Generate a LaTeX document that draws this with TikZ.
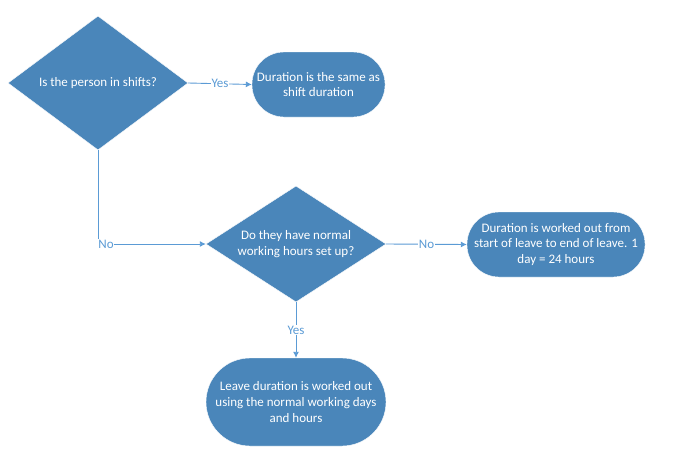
\documentclass[tikz,border=0pt]{standalone}
\usepackage{fontspec}
\setmainfont{Carlito}
\usetikzlibrary{shapes.geometric,arrows.meta}
\definecolor{boxblue}{HTML}{4A86BA}
\definecolor{lineblue}{HTML}{5B9BD5}
\tikzset{
  decision/.style={diamond, fill=boxblue, draw=white, inner sep=0pt},
  question/.style={text=white, align=center, font=\fontsize{13}{15.7}\selectfont},
  outcome/.style={rectangle, fill=boxblue, draw=white, text=white, inner sep=0pt, align=center, font=\fontsize{13}{15.7}\selectfont},
  flow/.style={draw=lineblue, line width=0.9pt, -{Latex[length=6pt,width=6pt]}},
  answer/.style={fill=white, text=lineblue, inner sep=1pt, font=\fontsize{13}{14}\selectfont}
}
\begin{document}
\begin{tikzpicture}[x=1pt,y=-1pt]
\useasboundingbox[fill=white] (0,0) rectangle (688,463);
\node[decision, minimum width=180pt, minimum height=134pt, label={[question]center:Is the person in shifts?}] (shifts) at (98,83) {};
\node[outcome, rounded corners=32pt, minimum width=133pt, minimum height=65pt] (shiftdur) at (318.5,84.5) {Duration is the same as\\shift duration};
\node[decision, minimum width=180pt, minimum height=116pt, label={[question]center:Do they have normal\\working hours set up?}] (normal) at (296,244) {};
\node[outcome, rounded corners=32pt, minimum width=178pt, minimum height=65pt] (fullday) at (556,244.5) {Duration is worked out from\\start of leave to end of leave. 1\\day = 24 hours};
\node[outcome, rounded corners=44pt, minimum width=180pt, minimum height=88pt] (workdays) at (296,402) {Leave duration is worked out\\using the normal working days\\and hours};
\draw[flow] (shifts.east) -- node[answer] {Yes} (shiftdur.west);
\draw[flow] (shifts.south) |- node[answer, pos=0.5, anchor=west, inner xsep=0pt] {No} (normal.west);
\draw[flow] (normal.east) -- node[answer] {No} (fullday.west);
\draw[flow] (normal.south) -- node[answer] {Yes} (workdays.north);
\end{tikzpicture}
\end{document}
